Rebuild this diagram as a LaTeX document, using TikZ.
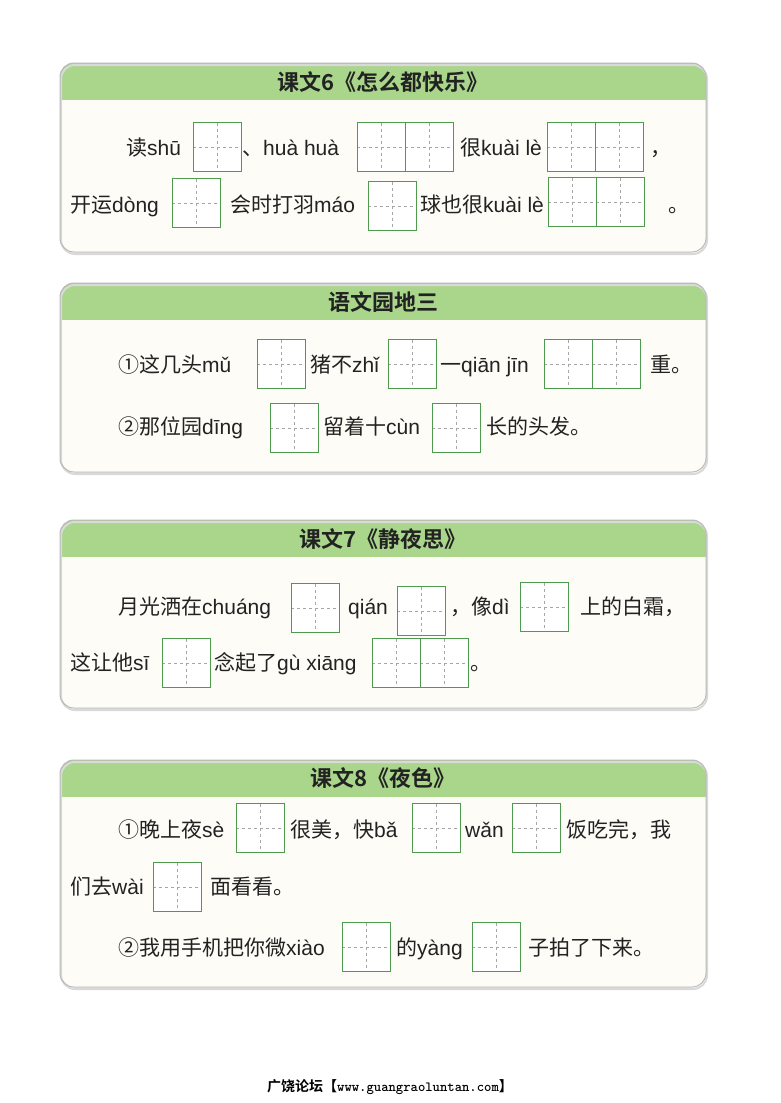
\documentclass[tikz,border=0pt]{standalone}
\usepackage{fontspec}
\setmainfont{Liberation Sans}
\newfontfamily\cjk{Noto Sans CJK SC}
\newfontfamily\cjkb{Noto Sans CJK SC Bold}
\definecolor{hdr}{HTML}{A9D68B}
\definecolor{bodyc}{HTML}{FDFCF6}
\definecolor{gbc}{HTML}{4E9A4E}
\definecolor{txc}{HTML}{222222}
\newcommand\zh[1]{{\cjk #1}}
\tikzset{
 txt/.style={anchor=base west,inner sep=0,font=\fontsize{21}{21}\selectfont,text=txc},
 ttl/.style={inner sep=0,font=\fontsize{22}{22}\cjkb,text=txc},
 gb/.style={draw=gbc,line width=0.9pt,minimum width=48pt,minimum height=49pt,inner sep=0,fill=white,
  path picture={\draw[dashed,gray!70,line width=0.5pt] (path picture bounding box.north)--(path picture bounding box.south) (path picture bounding box.west)--(path picture bounding box.east);}},
 panelb/.style={draw=gray!55,line width=1pt,rounded corners=14pt}
}
\newcommand\panel[3]{%
 \fill[bodyc,rounded corners=14pt] (60,#1) rectangle (706,#2);
 \begin{scope}\clip[rounded corners=14pt] (60,#1) rectangle (706,#2);
 \fill[hdr] (60,#1) rectangle (706,#3);\end{scope}
 \draw[gray!30,line width=2pt,rounded corners=14pt] (61,#1+2) rectangle (707,#2+2);
 \draw[panelb] (60,#1) rectangle (706,#2);
}
\begin{document}
\begin{tikzpicture}[x=1pt,y=-1pt]
\useasboundingbox (0,0) rectangle (780,1103);
\fill[white] (0,0) rectangle (780,1103);
% Panel 1
\panel{63}{252}{100}
\node[ttl] (t1) at (383,82) {课文6《怎么都快乐》};
\node[txt] (a1) at (126,155) {\zh{读}shū};
\node[gb] (b1) at (217,147) {};
\node[txt] (a2) at (242,155) {\zh{、}huà huà};
\node[gb] (b2) at (381,147) {};
\node[gb] (b3) at (429,147) {};
\node[txt] (a3) at (460,155) {\zh{很}kuài lè};
\node[gb] (b4) at (571,147) {};
\node[gb] (b5) at (619,147) {};
\node[txt] (a4) at (650,155) {\zh{，}};
\node[txt] (a5) at (70,212) {\zh{开运}dòng};
\node[gb] (b6) at (196,203) {};
\node[txt] (a6) at (230,212) {\zh{会时打羽}máo};
\node[gb] (b7) at (392,206) {};
\node[txt] (a7) at (420,212) {\zh{球也很}kuài lè};
\node[gb] (b8) at (572,202) {};
\node[gb] (b9) at (620,202) {};
\node[txt] (a8) at (668,212) {\zh{。}};
% Panel 2
\panel{283}{472}{320}
\node[ttl] (t2) at (383,302) {语文园地三};
\node[txt] (c1) at (118,372) {\zh{①这几头}mǔ};
\node[gb] (d1) at (281,364) {};
\node[txt] (c2) at (310,372) {\zh{猪不}zhǐ};
\node[gb] (d2) at (412,364) {};
\node[txt] (c3) at (440,372) {\zh{一}qiān jīn};
\node[gb] (d3) at (568,364) {};
\node[gb] (d4) at (616,364) {};
\node[txt] (c4) at (650,372) {\zh{重。}};
\node[txt] (c5) at (118,434) {\zh{②那位园}dīng};
\node[gb] (d5) at (294,428) {};
\node[txt] (c6) at (323,434) {\zh{留着十}cùn};
\node[gb] (d6) at (456,428) {};
\node[txt] (c7) at (486,434) {\zh{长的头发。}};
% Panel 3
\panel{520}{708}{557}
\node[ttl] (t3) at (383,539) {课文7《静夜思》};
\node[txt] (e1) at (118,614) {\zh{月光洒在}chuáng};
\node[gb] (f1) at (315,608) {};
\node[txt] (e2) at (348,614) {qián};
\node[gb] (f2) at (421,611) {};
\node[txt] (e3) at (450,614) {\zh{，像}dì};
\node[gb] (f3) at (544,607) {};
\node[txt] (e4) at (580,614) {\zh{上的白霜，}};
\node[txt] (e5) at (70,670) {\zh{这让他}sī};
\node[gb] (f4) at (186,663) {};
\node[txt] (e6) at (214,670) {\zh{念起了}gù xiāng};
\node[gb] (f5) at (396,663) {};
\node[gb] (f6) at (444,663) {};
\node[txt] (e7) at (470,670) {\zh{。}};
% Panel 4
\panel{760}{987}{797}
\node[ttl] (t4) at (383,778) {课文8《夜色》};
\node[txt] (g1) at (118,837) {\zh{①晚上夜}sè};
\node[gb] (h1) at (260,828) {};
\node[txt] (g2) at (290,837) {\zh{很美，快}bǎ};
\node[gb] (h2) at (436,828) {};
\node[txt] (g3) at (465,837) {wǎn};
\node[gb] (h3) at (536,828) {};
\node[txt] (g4) at (566,837) {\zh{饭吃完，我}};
\node[txt] (g5) at (70,894) {\zh{们去}wài};
\node[gb] (h4) at (177,887) {};
\node[txt] (g6) at (210,894) {\zh{面看看。}};
\node[txt] (g7) at (118,955) {\zh{②我用手机把你微}xiào};
\node[gb] (h5) at (366,947) {};
\node[txt] (g8) at (396,955) {\zh{的}yàng};
\node[gb] (h6) at (496,947) {};
\node[txt] (g9) at (528,955) {\zh{子拍了下来。}};
\node[inner sep=0,font=\fontsize{14}{14}\selectfont] (ft) at (390,1087) {{\cjkb 广饶论坛【}{\ttfamily\bfseries www.guangraoluntan.com}{\cjkb 】}};
\end{tikzpicture}
\end{document}
